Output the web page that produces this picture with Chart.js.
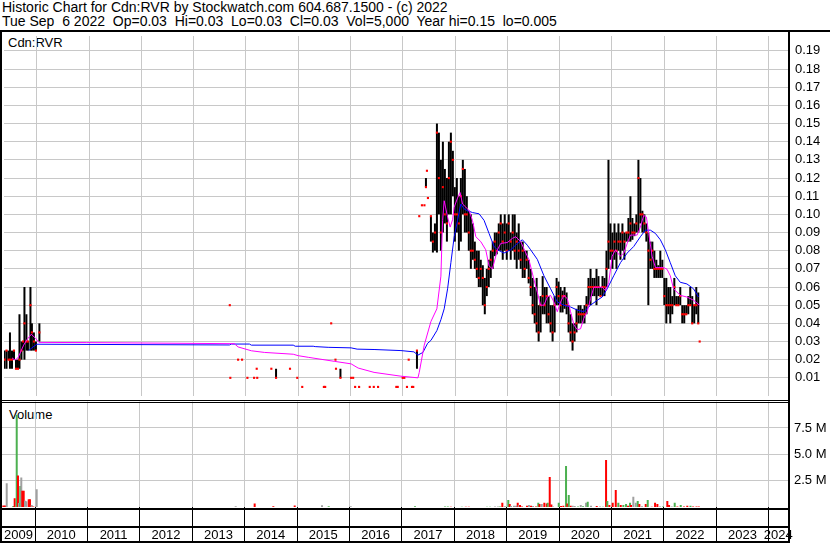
<!DOCTYPE html>
<html>
<head>
<meta charset="utf-8">
<script src="https://cdn.jsdelivr.net/npm/chart.js@4.4.1/dist/chart.umd.min.js"></script>
<style>
  body { margin: 0; width: 830px; height: 543px; overflow: hidden; background: #fff; position: relative;
         font-family: "Liberation Sans", Arial, sans-serif; color: #000; }
  .txt { position: absolute; white-space: pre; }
  #head { left: 2px; top: 0; font-size: 14px; line-height: 14px; }
  #sym { left: 8px; top: 36px; font-size: 13px; line-height: 13px; }
  #vlab { left: 9px; top: 408px; font-size: 13px; line-height: 13px; }
  canvas { position: absolute; left: 0; }
  #priceChart { top: 32px; }
  #volChart { top: 400px; }
  .ln { position: absolute; background: #000; }
</style>
</head>
<body>
<div class="txt" id="head">Historic Chart for Cdn:RVR by Stockwatch.com 604.687.1500 - (c) 2022
Tue Sep  6 2022  Op=0.03  Hi=0.03  Lo=0.03  Cl=0.03  Vol=5,000  Year hi=0.15  lo=0.005</div>
<div class="txt" id="sym">Cdn:RVR</div>
<div class="txt" id="vlab">Volume</div>
<canvas id="priceChart" width="830" height="368"></canvas>
<canvas id="volChart" width="830" height="143"></canvas>
<div class="ln" style="left:0;top:30px;width:830px;height:2px"></div>
<div class="ln" style="left:0;top:30px;width:2px;height:513px"></div>
<div class="ln" style="left:788px;top:30px;width:2px;height:513px"></div>
<div class="ln" style="left:0;top:400px;width:790px;height:1px"></div>
<div class="ln" style="left:0;top:402px;width:790px;height:1px"></div>
<div class="ln" style="left:0;top:508px;width:790px;height:2px"></div>
<div class="ln" style="left:0;top:526px;width:790px;height:2px"></div>
<div class="ln" style="left:0;top:541px;width:790px;height:2px"></div>
<script>
// weekly bars, date as decimal year
let wk = [
    // 2009
    2009.379, 2009.418, 2009.456, 2009.484, 2009.523, 2009.561, 2009.599, 2009.637, 2009.666, 2009.704,
    2009.733, 2009.761, 2009.799, 2009.828, 2009.876, 2009.904, 2009.942, 2009.981, 2010.047,
    // odd trades 2013 - early 2017
    2013.690, 2013.700, 2013.849, 2013.925, 2014.027, 2014.155, 2014.205, 2014.215, 2014.485, 2014.575,
    2014.842, 2014.981, 2015.076, 2015.490, 2015.515, 2015.630, 2015.712, 2015.722, 2015.807, 2016.011,
    2016.050, 2016.088, 2016.164, 2016.368, 2016.445, 2016.527, 2016.876, 2016.903, 2016.998, 2017.029,
    2017.080, 2017.113, 2017.176, 2017.200,
    2017.271, 2017.315, 2017.366, 2017.414, 2017.443, 2017.462, 2017.481,
    // 2017
    2017.538, 2017.576, 2017.615, 2017.653, 2017.691, 2017.729, 2017.767, 2017.805, 2017.844, 2017.882,
    2017.920, 2017.958, 2017.996,
    // 2018
    2018.034, 2018.073, 2018.111, 2018.149, 2018.187, 2018.225, 2018.263, 2018.302, 2018.340, 2018.378,
    2018.416, 2018.454, 2018.492, 2018.531, 2018.569, 2018.607, 2018.645, 2018.683, 2018.721, 2018.760,
    2018.798, 2018.836, 2018.874, 2018.912, 2018.950, 2018.989,
    // 2019
    2019.027, 2019.065, 2019.103, 2019.141, 2019.179, 2019.218, 2019.256, 2019.294, 2019.332, 2019.370,
    2019.408, 2019.447, 2019.485, 2019.523, 2019.561, 2019.599, 2019.637, 2019.676, 2019.714, 2019.752,
    2019.790, 2019.828, 2019.866, 2019.905, 2019.943, 2019.981,
    // 2020
    2020.019, 2020.057, 2020.095, 2020.134, 2020.172, 2020.210, 2020.248, 2020.286, 2020.324, 2020.363,
    2020.401, 2020.439, 2020.477, 2020.515, 2020.553, 2020.592, 2020.630, 2020.668, 2020.706, 2020.744,
    2020.782, 2020.821, 2020.859, 2020.897, 2020.935, 2020.973,
    // 2021
    2021.011, 2021.050, 2021.088, 2021.126, 2021.164, 2021.202, 2021.240, 2021.279, 2021.317, 2021.355,
    2021.393, 2021.431, 2021.469, 2021.508, 2021.546, 2021.584, 2021.622, 2021.660, 2021.698, 2021.737,
    2021.775, 2021.813, 2021.851, 2021.889, 2021.927, 2021.966,
    // 2022
    2022.004, 2022.042, 2022.080, 2022.118, 2022.156, 2022.195, 2022.233, 2022.271, 2022.309, 2022.347,
    2022.385, 2022.424, 2022.462, 2022.500, 2022.538, 2022.576, 2022.615, 2022.653, 2022.680
];
let hi = [
    .025, .025, .025, .035, .025, .025, .020, .020, .045, .030,
    .030, .060, .045, .030, .060, .040, .035, .030, .040,
    .050, .010, .020, .020, .010, .010, .015, .010, .015, .015,
    .015, .010, .005, .005, .005, .040, .020, .015, .015, .010,
    .010, .005, .005, .005, .005, .005, .005, .005, .010, .010,
    .005, .020, .005, .005,
    .025, .099, .105, .105, .120, .124, .109,
    .099, .090, .095, .150, .145, .130, .140, .125, .120, .140,
    .145, .135, .115,
    .120, .110, .120, .130, .125, .110, .102, .100, .095, .085,
    .080, .080, .075, .072, .065, .070, .075, .080, .085, .090,
    .090, .095, .100, .095, .100, .095,
    .100, .090, .100, .100, .090, .095, .085, .085, .080, .080,
    .075, .070, .065, .060, .065, .050, .055, .066, .060, .060,
    .055, .050, .050, .055, .065, .063,
    .060, .058, .060, .057, .050, .045, .040, .040, .048, .050,
    .050, .048, .050, .055, .065, .070, .065, .065, .070, .066,
    .060, .066, .065, .080, .130, .095,
    .090, .095, .090, .095, .090, .095, .090, .090, .098, .110,
    .098, .095, .100, .130, .120, .102, .100, .095, .090, .085,
    .085, .080, .075, .072, .080, .075,
    .065, .065, .060, .060, .055, .065, .055, .055, .060, .050,
    .050, .050, .055, .060, .055, .050, .060, .057, .030
];
let lo = [
    .015, .015, .020, .015, .015, .020, .015, .015, .015, .020,
    .025, .020, .025, .025, .025, .025, .025, .025, .030,
    .050, .010, .020, .020, .010, .010, .015, .010, .015, .010,
    .015, .010, .005, .005, .005, .040, .020, .015, .010, .010,
    .010, .005, .005, .005, .005, .005, .005, .005, .010, .010,
    .005, .020, .005, .005,
    .015, .099, .105, .105, .115, .124, .109,
    .085, .079, .080, .079, .100, .080, .090, .095, .085, .100,
    .100, .110, .085,
    .090, .080, .085, .100, .090, .090, .080, .070, .075, .070,
    .065, .060, .060, .050, .045, .055, .060, .065, .070, .077,
    .078, .080, .080, .075, .080, .075,
    .080, .075, .080, .075, .070, .075, .070, .065, .065, .070,
    .062, .055, .045, .040, .035, .030, .035, .045, .045, .040,
    .040, .035, .030, .035, .050, .050,
    .046, .046, .048, .045, .035, .030, .025, .030, .035, .040,
    .040, .040, .040, .045, .050, .050, .055, .055, .050, .055,
    .055, .055, .055, .060, .070, .075,
    .070, .075, .070, .080, .075, .080, .075, .085, .085, .085,
    .086, .088, .090, .090, .095, .090, .090, .085, .050, .070,
    .070, .065, .065, .065, .065, .065,
    .050, .040, .045, .040, .045, .050, .050, .050, .050, .040,
    .040, .045, .045, .050, .040, .040, .045, .040, .030
];
let cl = [
    .020, .025, .020, .020, .020, .025, .015, .015, .020, .025,
    .030, .040, .030, .030, .050, .035, .030, .025, .035,
    .050, .010, .020, .020, .010, .010, .015, .010, .015, .010,
    .015, .010, .005, .005, .005, .040, .020, .015, .010, .010,
    .010, .005, .005, .005, .005, .005, .005, .005, .010, .010,
    .005, .020, .005, .005,
    .025, .099, .105, .105, .115, .124, .109,
    .099, .085, .090, .145, .120, .090, .115, .100, .095, .120,
    .140, .130, .100,
    .100, .095, .110, .125, .100, .100, .090, .080, .080, .075,
    .070, .065, .070, .065, .050, .060, .070, .075, .080, .085,
    .080, .090, .095, .085, .090, .080,
    .095, .085, .090, .080, .085, .080, .075, .080, .070, .075,
    .065, .060, .050, .045, .040, .035, .050, .055, .050, .055,
    .045, .040, .035, .050, .060, .055,
    .050, .055, .055, .050, .040, .035, .030, .035, .040, .045,
    .045, .045, .045, .050, .060, .060, .060, .060, .060, .060,
    .055, .060, .060, .070, .085, .080,
    .080, .085, .080, .085, .085, .090, .085, .090, .090, .095,
    .090, .090, .095, .120, .100, .100, .095, .090, .080, .075,
    .080, .070, .070, .070, .070, .070,
    .055, .050, .050, .050, .050, .060, .050, .050, .055, .045,
    .045, .045, .050, .050, .040, .050, .050, .040, .030
];

// short moving average (magenta)
let maShortX = [
    2009.523, 2009.580, 2009.637, 2009.746, 2009.809, 2009.891, 2009.967, 2010.038, 2010.954, 2013.778,
    2013.849, 2014.103, 2014.351, 2014.904, 2014.999, 2015.191, 2015.687, 2016.011, 2016.145, 2016.450,
    2016.965, 2017.290, 2017.315, 2017.410, 2017.538, 2017.652, 2017.729, 2017.761, 2017.792, 2017.857,
    2017.906, 2017.952, 2017.983, 2018.047, 2018.097, 2018.143, 2018.206, 2018.269, 2018.333, 2018.397,
    2018.492, 2018.587, 2018.650, 2018.715, 2018.811, 2018.874, 2019.002, 2019.097, 2019.160, 2019.256,
    2019.414, 2019.510, 2019.574, 2019.637, 2019.700, 2019.765, 2019.828, 2019.891, 2019.956, 2020.019,
    2020.082, 2020.147, 2020.210, 2020.273, 2020.338, 2020.401, 2020.464, 2020.529, 2020.592, 2020.655,
    2020.815, 2020.878, 2020.941, 2021.006, 2021.069, 2021.113, 2021.165, 2021.228, 2021.293, 2021.355,
    2021.483, 2021.546, 2021.609, 2021.661, 2021.705, 2021.770, 2021.833, 2021.990, 2022.055, 2022.118,
    2022.181, 2022.246, 2022.309, 2022.436, 2022.563, 2022.677
];
let maShortY = [
    .0210, .0198, .0210, .0280, .0310, .0340, .0320, .0295, .0294, .0288,
    .0270, .0249, .0240, .0230, .0222, .0213, .0191, .0177, .0154, .0130,
    .0109, .0100, .0130, .0280, .0410, .0480, .0660, .0967, .1075, .0985,
    .0930, .0970, .1040, .1090, .1120, .1057, .1040, .1020, .0967, .0877,
    .0850, .0805, .0716, .0700, .0805, .0840, .0845, .0868, .0877, .0850,
    .0750, .0640, .0570, .0500, .0500, .0545, .0554, .0518, .0464, .0518,
    .0554, .0536, .0464, .0392, .0365, .0370, .0428, .0464, .0536, .0599,
    .0599, .0580, .0626, .0770, .0805, .0787, .0770, .0787, .0840, .0886,
    .0886, .0930, .0994, .0985, .0895, .0770, .0707, .0707, .0698, .0662,
    .0590, .0572, .0554, .0545, .0527, .0500
];

// long moving average (blue)
let maLongX = [
    2009.841, 2009.904, 2009.999, 2013.683, 2013.721, 2014.065, 2014.103, 2014.904, 2014.942, 2015.286,
    2015.324, 2015.572, 2016.011, 2016.126, 2016.450, 2016.965, 2017.213, 2017.290, 2017.385, 2017.475,
    2017.538, 2017.652, 2017.729, 2017.792, 2017.857, 2017.920, 2017.983, 2018.047, 2018.110, 2018.173,
    2018.238, 2018.334, 2018.460, 2018.555, 2018.650, 2018.746, 2018.811, 2018.937, 2019.065, 2019.192,
    2019.288, 2019.383, 2019.446, 2019.574, 2019.700, 2019.828, 2019.956, 2020.082, 2020.210, 2020.338,
    2020.464, 2020.592, 2020.720, 2020.815, 2020.910, 2021.036, 2021.165, 2021.293, 2021.418, 2021.546,
    2021.641, 2021.737, 2021.833, 2021.928, 2022.023, 2022.118, 2022.213, 2022.309, 2022.436, 2022.563,
    2022.658
];
let maLongY = [
    .0250, .0265, .0285, .0281, .0286, .0286, .0280, .0280, .0274, .0274,
    .0272, .0268, .0265, .0258, .0256, .0250, .0243, .0225, .0240, .0290,
    .0306, .0360, .0420, .0480, .0590, .0734, .0877, .0967, .1057, .1030,
    .1020, .1010, .1003, .0967, .0895, .0823, .0805, .0787, .0805, .0840,
    .0860, .0830, .0805, .0752, .0662, .0590, .0518, .0500, .0490, .0473,
    .0464, .0500, .0527, .0545, .0590, .0662, .0734, .0787, .0823, .0877,
    .0913, .0913, .0895, .0860, .0805, .0734, .0662, .0626, .0617, .0590,
    .0545
];

// volume (millions of shares); u = up, d = down, n = unchanged
let vwk = [
    2009.395, 2009.427, 2009.460, 2009.586, 2009.612, 2009.651, 2009.675, 2009.694, 2009.719, 2009.738,
    2009.757, 2009.784, 2009.809, 2009.834, 2009.880, 2009.904, 2009.937, 2009.967, 2010.032,
    2013.830, 2014.192, 2014.548, 2014.956, 2015.477, 2015.605, 2016.025, 2017.252,
    2017.824, 2017.878, 2017.936, 2018.146, 2018.222, 2018.279, 2018.626, 2018.683, 2018.779, 2018.836,
    2018.874, 2018.918, 2018.969, 2019.032, 2019.059, 2019.084, 2019.141, 2019.179, 2019.212, 2019.231,
    2019.256, 2019.294, 2019.389, 2019.427, 2019.466, 2019.504, 2019.561, 2019.605, 2019.628, 2019.670,
    2019.720, 2019.766, 2019.785, 2019.823, 2019.854, 2019.886, 2019.995, 2020.039, 2020.083, 2020.134,
    2020.159, 2020.186, 2020.224, 2020.262, 2020.300, 2020.363, 2020.415, 2020.459, 2020.516, 2020.548,
    2020.611, 2020.720, 2020.783, 2020.840, 2020.898, 2020.922, 2020.961, 2021.025, 2021.083, 2021.132,
    2021.178, 2021.228, 2021.279, 2021.317, 2021.355, 2021.374, 2021.418, 2021.464, 2021.502, 2021.533,
    2021.584, 2021.655, 2021.693, 2021.770, 2021.833, 2021.877, 2021.928, 2021.985, 2022.067, 2022.100,
    2022.151, 2022.208, 2022.258, 2022.323, 2022.386, 2022.448, 2022.509, 2022.559, 2022.624, 2022.668
];
let vol = [
    0.15, 0.15, 2.25, 0.10, 0.85, 8.75, 3.00, 0.40, 2.00, 2.80,
    1.55, 1.55, 0.60, 0.55, 0.75, 0.75, 0.20, 0.05, 1.70,
    0.07, 0.35, 0.08, 0.15, 0.17, 0.08, 0.08, 0.08,
    0.05, 0.05, 0.04, 0.04, 0.04, 0.04, 0.04, 0.04, 0.05, 0.05,
    0.05, 0.41, 0.08, 0.67, 0.30, 0.10, 0.13, 0.13, 0.41, 0.20,
    0.19, 0.05, 0.13, 0.20, 0.13, 0.10, 0.05, 0.41, 0.30, 0.29,
    0.41, 0.35, 0.41, 2.85, 0.25, 0.05, 0.41, 0.10, 0.13, 3.90,
    0.35, 1.14, 0.13, 0.13, 0.10, 0.05, 0.19, 0.08, 0.41, 0.50,
    0.13, 0.10, 0.05, 0.03, 4.47, 0.57, 0.19, 0.41, 1.62, 0.41,
    0.19, 0.19, 0.29, 0.13, 0.41, 0.19, 0.98, 0.41, 0.57, 0.29,
    0.08, 0.29, 0.67, 0.03, 0.41, 0.29, 0.05, 0.05, 0.57, 0.19,
    0.05, 0.41, 0.05, 0.19, 0.05, 0.13, 0.13, 0.05, 0.05, 0.05
];
let vdir = [
    'd', 'd', 'n', 'u', 'd', 'u', 'd', 'n', 'u', 'n',
    'd', 'd', 'n', 'n', 'd', 'd', 'n', 'd', 'n',
    'n', 'd', 'd', 'd', 'n', 'u', 'n', 'u',
    'u', 'u', 'd', 'u', 'd', 'd', 'u', 'u', 'n', 'n',
    'u', 'd', 'n', 'u', 'd', 'n', 'n', 'n', 'd', 'n',
    'd', 'd', 'd', 'n', 'd', 'n', 'd', 'u', 'd', 'n',
    'd', 'd', 'u', 'd', 'd', 'n', 'u', 'd', 'd', 'u',
    'd', 'u', 'd', 'n', 'n', 'u', 'n', 'u', 'n', 'u',
    'n', 'd', 'n', 'u', 'd', 'u', 'd', 'd', 'd', 'u',
    'd', 'u', 'u', 'd', 'u', 'd', 'n', 'n', 'u', 'd',
    'n', 'd', 'u', 'd', 'd', 'd', 'n', 'u', 'd', 'd',
    'n', 'u', 'd', 'u', 'd', 'd', 'u', 'd', 'd', 'd'
];

let years = [2009, 2010, 2011, 2012, 2013, 2014, 2015, 2016, 2017, 2018, 2019, 2020, 2021, 2022, 2023, 2024];
let priceTicks = [.01, .02, .03, .04, .05, .06, .07, .08, .09, .10, .11, .12, .13, .14, .15, .16, .17, .18, .19];
let volTicks = [2.5, 5, 7.5];

let xMin = 2009.37;
let xMax = 2024.37;
let volColors = { u: '#4cb050', d: '#ff0000', n: '#a0a0a0' };

Chart.defaults.font.family = '"Liberation Sans", Arial, sans-serif';
Chart.defaults.font.size = 13;
Chart.defaults.color = '#000';
Chart.defaults.animation = false;

// year lines at Jan 1, labels centred in the visible part of each year
let yearLines = years.filter(y => y > xMin && y < xMax);
let yearMids = years.map(y => (Math.max(y, xMin) + Math.min(y + 1, xMax)) / 2);
let yearTickVals = yearLines.concat(yearMids).sort((a, b) => a - b);

function isLine(c) {
    return c.tick && Number.isInteger(c.tick.value);
}

function timeAxis(withLabels) {
    return {
        type: 'linear',
        min: xMin,
        max: xMax,
        offset: false,
        afterBuildTicks: (s) => {
            s.ticks = (withLabels ? yearTickVals : yearLines).map(v => ({ value: v }));
        },
        ticks: {
            display: withLabels,
            autoSkip: false,
            maxRotation: 0,
            padding: -14,
            callback: (v) => Number.isInteger(v) ? '' : String(Math.floor(v))
        },
        grid: {
            offset: false,
            color: (c) => isLine(c) ? '#c8c8c8' : 'rgba(0,0,0,0)',
            drawTicks: withLabels,
            tickLength: 35,
            tickWidth: 1,
            tickColor: (c) => isLine(c) ? '#000' : 'rgba(0,0,0,0)'
        },
        border: { display: false },
        afterFit: (s) => {
            s.height = withLabels ? 35.9 : 0;
            s.paddingLeft = 0;
            s.paddingRight = 0;
        }
    };
}

function valueAxis(max, ticks, pad, fmt) {
    return {
        position: 'right',
        min: 0,
        max: max,
        afterBuildTicks: (s) => { s.ticks = ticks.map(v => ({ value: v })); },
        ticks: { padding: pad, autoSkip: false, callback: fmt },
        grid: { color: '#c8c8c8', drawTicks: false },
        border: { display: false },
        afterFit: (s) => {
            s.width = 42;
            s.paddingTop = 0;
            s.paddingBottom = 0;
        }
    };
}

function drawPriceChart() {
    let ctx = document.getElementById('priceChart').getContext('2d');
    let bars = wk.map((x, i) => ({ x: x, y: [lo[i], hi[i]] }));
    let closes = wk.map((x, i) => ({ x: x, y: cl[i] }));
    let maShort = maShortX.map((x, i) => ({ x: x, y: maShortY[i] }));
    let maLong = maLongX.map((x, i) => ({ x: x, y: maLongY[i] }));

    new Chart(ctx, {
        type: 'bar',
        data: {
            datasets: [{
                type: 'line',
                data: maShort,
                borderColor: '#ff00ff',
                borderWidth: 1,
                pointRadius: 0,
                order: 1
            }, {
                type: 'line',
                data: maLong,
                borderColor: '#0000ff',
                borderWidth: 1,
                pointRadius: 0,
                order: 2
            }, {
                type: 'scatter',
                data: closes,
                pointStyle: 'rect',
                pointRadius: 1.5,
                backgroundColor: '#ff0000',
                borderWidth: 0,
                order: 3
            }, {
                type: 'bar',
                data: bars,
                backgroundColor: '#000',
                barThickness: 2,
                inflateAmount: 0,
                order: 4
            }]
        },
        options: {
            responsive: false,
            layout: { padding: { left: 2, right: 0, top: 0.5, bottom: 0.3 } },
            plugins: { legend: { display: false }, tooltip: { enabled: false } },
            scales: {
                x: timeAxis(false),
                y: valueAxis(0.1982, priceTicks, 7, (v) => v.toFixed(2))
            }
        }
    });
}

function drawVolumeChart() {
    let ctx = document.getElementById('volChart').getContext('2d');
    let bars = vwk.map((x, i) => ({ x: x, y: vol[i] }));

    new Chart(ctx, {
        type: 'bar',
        data: {
            datasets: [{
                data: bars,
                backgroundColor: vdir.map(d => volColors[d]),
                barThickness: 2,
                inflateAmount: 0
            }]
        },
        options: {
            responsive: false,
            layout: { padding: { left: 2, right: 0, top: 1.6, bottom: 0 } },
            plugins: { legend: { display: false }, tooltip: { enabled: false } },
            scales: {
                x: timeAxis(true),
                y: valueAxis(10, volTicks, 6, (v) => v.toFixed(1) + ' M')
            }
        }
    });
}

drawPriceChart();
drawVolumeChart();
</script>
</body>
</html>
